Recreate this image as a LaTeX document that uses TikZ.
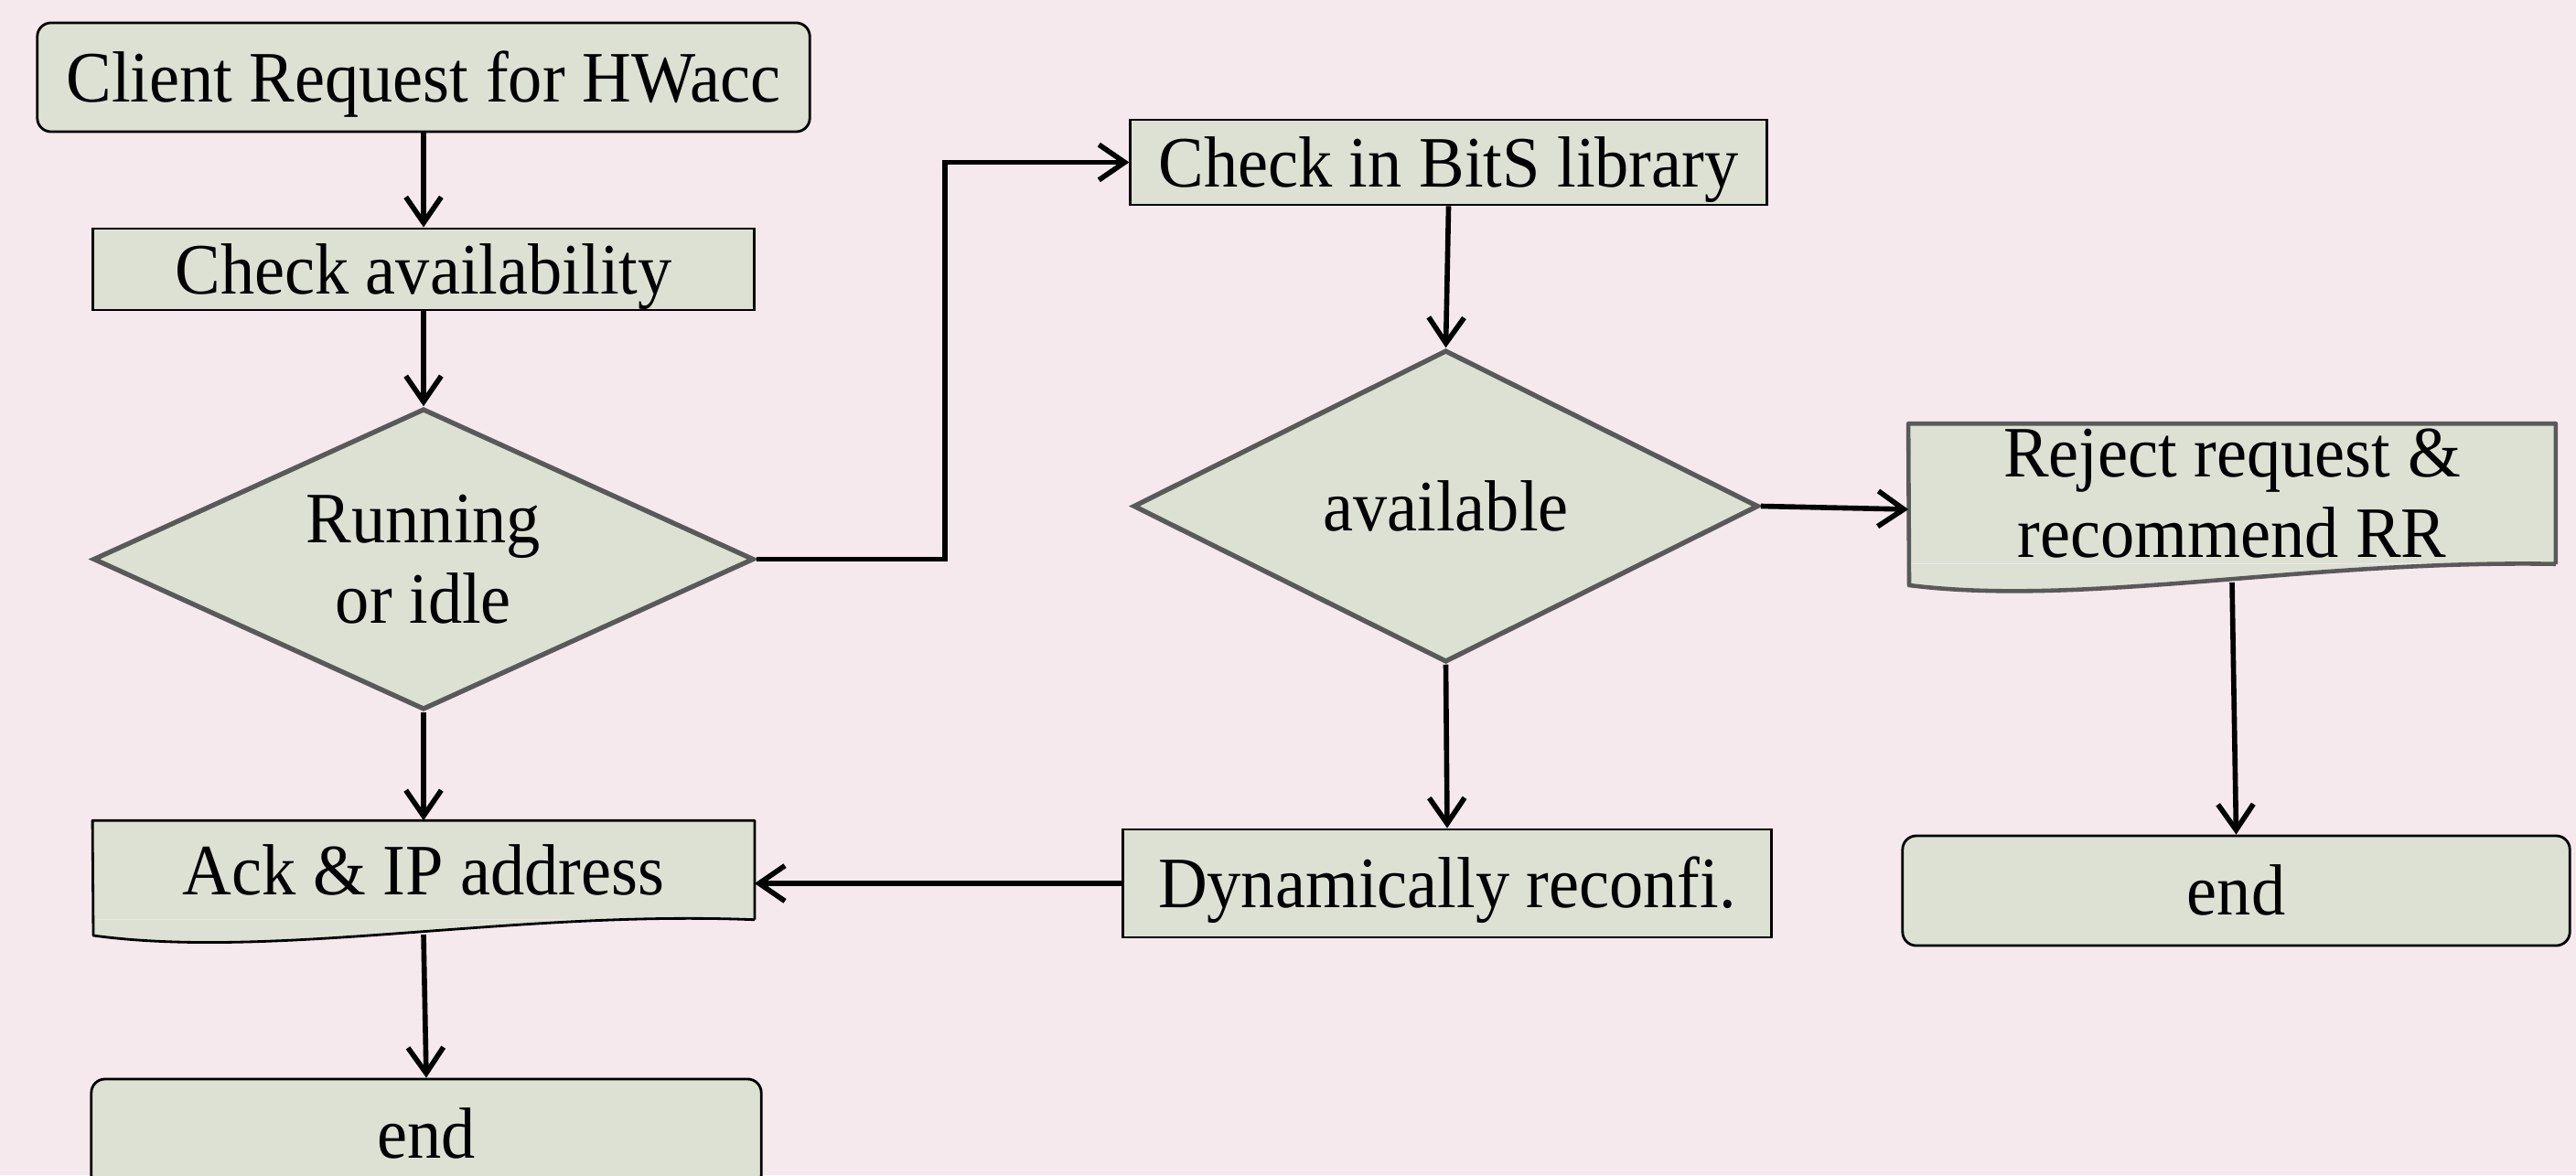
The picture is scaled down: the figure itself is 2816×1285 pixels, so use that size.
\documentclass[tikz,border=0pt]{standalone}
\usepackage{fontspec}
\setmainfont{Liberation Serif}[FakeStretch=0.94]
\usetikzlibrary{shapes.geometric,arrows.meta}
\definecolor{bgpink}{RGB}{245,233,238}
\definecolor{boxfill}{RGB}{220,225,212}
\definecolor{edgegray}{RGB}{89,89,89}
\tikzset{
  oneline/.style={text height=20pt, text depth=4.9pt},
  procbox/.style={rectangle, draw=black, line width=0.8pt, fill=boxfill, inner sep=0pt, align=center},
  termbox/.style={procbox, rounded corners=0.15cm},
  decision/.style={diamond, draw=edgegray, line width=1.5pt, fill=boxfill, inner sep=0pt, align=center},
  docbox/.style={rectangle, fill=boxfill, draw=none, inner sep=0pt, align=center},
  conn/.style={line width=1.6pt, -{Straight Barb[length=8pt,width=11pt,line width=1.6pt]}}
}
\begin{document}
\begin{tikzpicture}[x=0.01cm, y=-0.01cm, font=\fontsize{22.5pt}{25pt}\selectfont]
\useasboundingbox (0,0) rectangle (2816,1285);
\fill[bgpink] (0,0) rectangle (2816,1285);
\clip (0,0) rectangle (2816,1285);

% left column
\node[termbox, oneline, minimum width=8.44cm, minimum height=1.19cm] (client) at (463,84.5) {Client Request for HWacc};
\node[procbox, oneline, minimum width=7.22cm, minimum height=0.89cm] (avail) at (463,294.5) {Check availability};
\node[decision, shape aspect=2.19, minimum width=7.22cm, minimum height=3.29cm] (dec1) at (463,611.5) {\raisebox{-0.1em}{\parbox{2.9cm}{\centering Running\\or idle}}};
\node[docbox, oneline, minimum width=7.22cm, minimum height=1.07cm] (ack) at (463,951.5) {Ack \& IP address};
\fill[boxfill] (ack.south west) -- (102,1023) .. controls (300,1050) and (560,995) .. (ack.south east) -- cycle;
\draw[black, line width=0.8pt, line join=round] (ack.south east) -- (ack.north east) -- (ack.north west) -- (102,1023) .. controls (300,1050) and (560,995) .. (ack.south east);
\coordinate (ackb) at (463,1022);
\node[termbox, oneline, minimum width=7.32cm, minimum height=1.20cm] (end1) at (466,1240) {end};

% middle column
\node[procbox, oneline, minimum width=6.95cm, minimum height=0.93cm] (bits) at (1583.5,177.5) {Check in BitS library};
\node[decision, oneline, shape aspect=2, minimum width=6.83cm, minimum height=3.41cm] (dec2) at (1580.5,553.5) {available};
\node[procbox, oneline, minimum width=7.08cm, minimum height=1.18cm] (dyn) at (1582,966) {Dynamically reconfi.};

% right column
\node[docbox, minimum width=7.06cm, minimum height=1.52cm] (reject) at (2440,540) {\raisebox{-0.1em}{\parbox{6.5cm}{\centering Reject request \&\\recommend RR}}};
\fill[boxfill] (reject.south west) -- (2087,640) .. controls (2280,664) and (2520,612) .. (reject.south east) -- cycle;
\draw[edgegray, line width=1.3pt, line join=round] (reject.south east) -- (reject.north east) -- (reject.north west) -- (2087,640) .. controls (2280,664) and (2520,612) .. (reject.south east);
\coordinate (rejb) at (2440,637);
\node[termbox, oneline, minimum width=7.29cm, minimum height=1.20cm] (end2) at (2444.5,974) {end};

% connectors
\draw[conn] (client) -- (avail);
\draw[conn] (avail) -- (dec1);
\draw[conn] (dec1) -- (ack);
\draw[conn] (ackb) -- (end1.north);
\draw[conn] (dec1.east) -- ++(206,0) |- (bits.west);
\draw[conn] (bits.south) -- (dec2.north);
\draw[conn] (dec2.south) -- (dyn.north);
\draw[conn] (dyn.west) -- (ack.east |- dyn.west);
\draw[conn] (dec2.east) -- (reject.west |- 0,557);
\draw[conn] (rejb) -- (end2.north);
\end{tikzpicture}
\end{document}
